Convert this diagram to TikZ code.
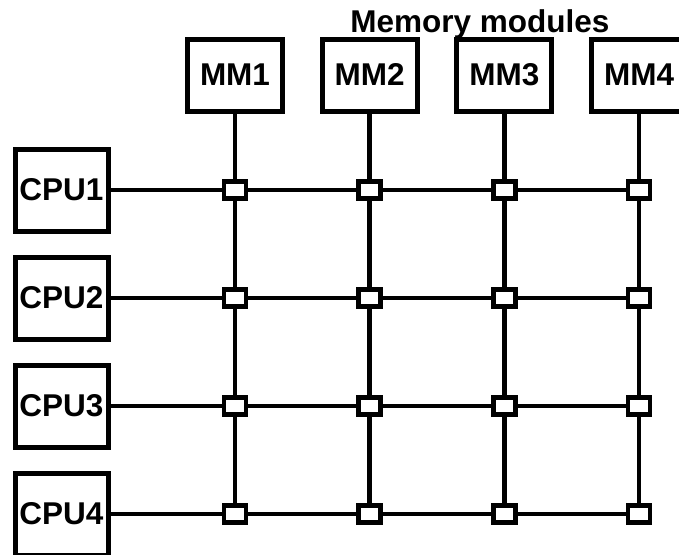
\documentclass[tikz,border=0pt]{standalone}
\usepackage{fontspec}
\setmainfont{Liberation Sans}
\usetikzlibrary{positioning}

\begin{document}
\begin{tikzpicture}[x=1pt,y=-1pt,font=\fontsize{31.5}{36}\selectfont\bfseries,
  caixa/.style={draw,line width=5pt,inner sep=0pt},
  chave/.style={draw,fill=white,line width=4.5pt,minimum width=22pt,minimum height=17pt,inner sep=0pt},
  fio/.style={line width=4.5pt}]
  \def\dx{134.67} % espaçamento das colunas
  \def\dy{108}    % espaçamento das linhas
  \useasboundingbox (0,0) rectangle (679,554);

  % ---------- módulos e processadores ----------
  \node[anchor=base] (titulo) at (480,32) {Memory modules};
  \foreach \i in {1,...,4}{
    \node[caixa,minimum width=95pt,minimum height=72pt] (mm\i) at ({235+(\i-1)*\dx},75) {MM\i};
    \node[caixa,minimum width=93pt,minimum height=82pt] (cpu\i) at (61.5,{190+(\i-1)*\dy}) {CPU\i};
  }

  % ---------- cruzamentos ----------
  \foreach \i in {1,...,4}{
    \foreach \j in {1,...,4}{
      \coordinate (x\i\j) at (mm\j |- cpu\i);
    }
  }
  \foreach \i in {1,...,4}{
    \draw[fio] (cpu\i.east) -- (x\i4);
    \draw[fio] (mm\i.south) -- (x4\i);
  }
  \foreach \i in {1,...,4}{
    \foreach \j in {1,...,4}{
      \node[chave] (sw\i\j) at (x\i\j) {};
    }
  }
\end{tikzpicture}
\end{document}
